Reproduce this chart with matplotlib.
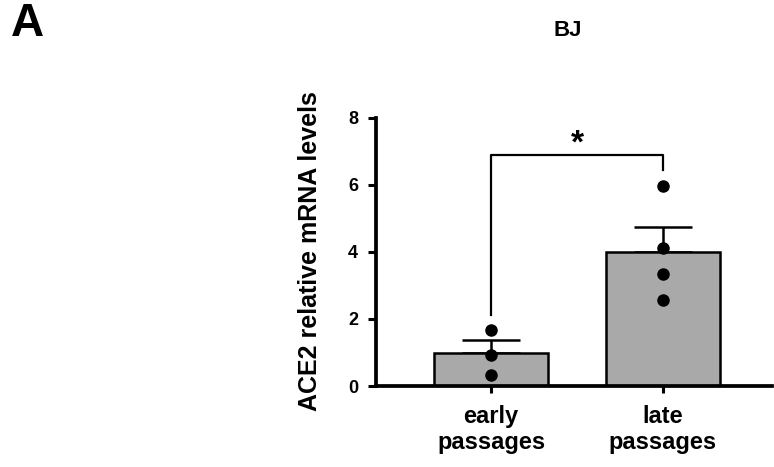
import numpy as np
import matplotlib
matplotlib.use('Agg')
import matplotlib.pyplot as plt

plt.rcParams['font.family'] = ['Liberation Sans', 'DejaVu Sans']
plt.rcParams['font.weight'] = 'bold'

categories = ['early\npassages', 'late\npassages']
means = [0.97, 3.99]
sem = [0.40, 0.74]
early_pts = [1.67, 0.92, 0.33]
late_pts = [5.95, 4.11, 3.34, 2.57]
yticks = [0, 2, 4, 6, 8]

fig = plt.figure(figsize=(7.74, 4.67), dpi=100)
ax = fig.add_axes([0.4858, 0.1734, 0.5116, 0.5745])

x = np.arange(len(categories))
ax.bar(x, means, width=0.663, color='#a9a9a9', edgecolor='black', linewidth=1.8, zorder=2)
# one-sided (upper) error bars
ax.errorbar(x, means, yerr=[np.zeros(2), sem], fmt='none', ecolor='black',
            elinewidth=1.8, capsize=21, capthick=1.8, zorder=1)

for xi, pts in zip(x, [early_pts, late_pts]):
    ax.plot([xi] * len(pts), pts, 'o', color='black', markersize=8, zorder=3)

# significance bracket
ax.plot([0, 0, 1, 1], [2.12, 6.9, 6.9, 6.43], color='black', linewidth=1.6, zorder=3)
ax.text(0.5, 7.2, '*', ha='center', va='center', fontsize=24, fontweight='bold')

ax.set_xlim(-0.669, 1.634)
ax.set_ylim(0, 8)
ax.set_xticks(x)
ax.set_xticklabels(categories, fontsize=17, fontweight='bold', linespacing=1.12)
ax.set_yticks(yticks)
ax.set_yticklabels([str(t) for t in yticks], fontsize=13, fontweight='bold')
ax.tick_params(axis='y', length=6, width=2.2, pad=7)
ax.tick_params(axis='x', length=5, width=2.2, pad=9)

for s in ['top', 'right']:
    ax.spines[s].set_visible(False)
for s in ['left', 'bottom']:
    ax.spines[s].set_linewidth(2.7)

ax.set_ylabel('ACE2 relative mRNA levels', fontsize=18, fontweight='bold')
ax.yaxis.set_label_coords(-0.136, 0.503)

fig.text(27 / 774, 1 - 24 / 467, 'A', fontsize=33, fontweight='bold', ha='center', va='center')
fig.text(568 / 774, 1 - 30 / 467, 'BJ', fontsize=16, fontweight='bold', ha='center', va='center')

fig.savefig('out.png', dpi=100)
